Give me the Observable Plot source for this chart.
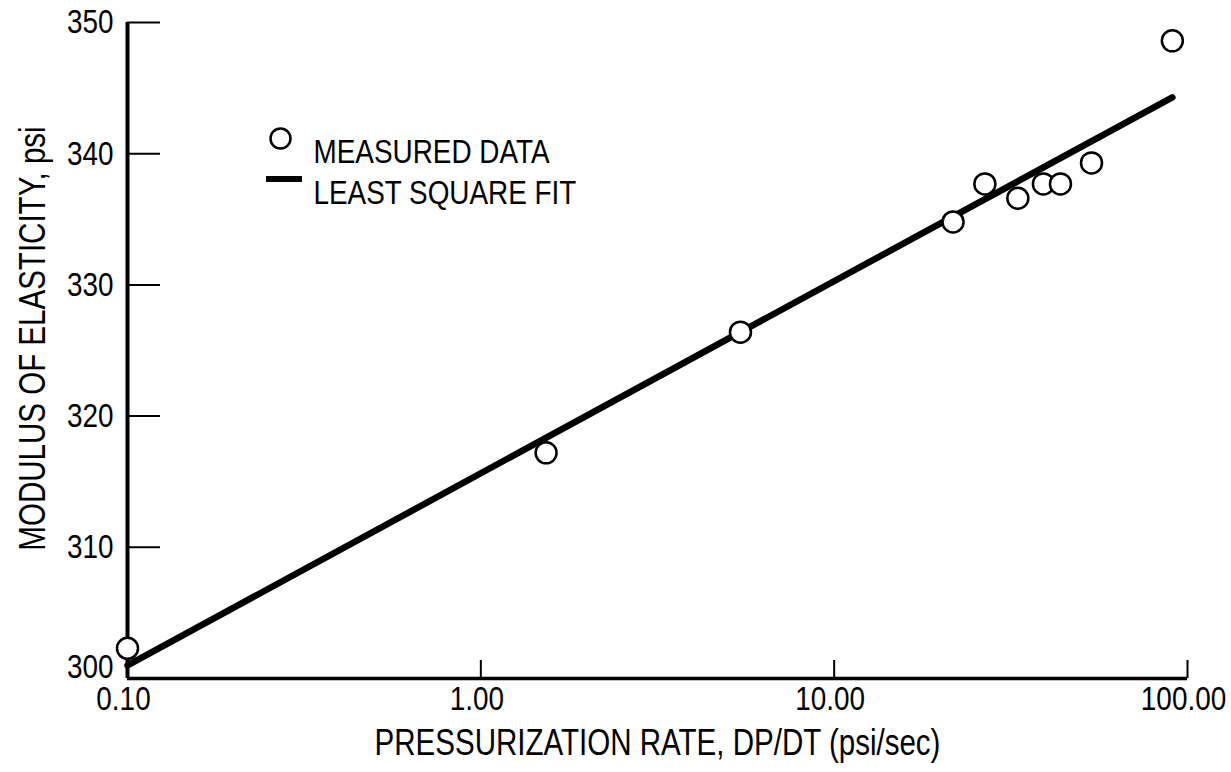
<!DOCTYPE html>
<html>
<head>
<meta charset="utf-8">
<script src="https://cdn.jsdelivr.net/npm/d3@7"></script>
<script src="https://cdn.jsdelivr.net/npm/@observablehq/plot@0.6"></script>
<style>
  html, body { margin: 0; padding: 0; background: #fff; }
  #chart { position: relative; width: 1231px; height: 772px; }
  svg { font-family: "Liberation Sans", Arial, sans-serif; }
</style>
</head>
<body>
<div id="chart"></div>
<script>
const rates   = [0.1, 1.53, 5.43, 21.7, 26.7, 33.1, 39.1, 43.7, 53.5, 90.6];
const moduli  = [302.3, 317.2, 326.4, 334.8, 337.7, 336.6, 337.7, 337.7, 339.3, 348.6];
// Least square fit line endpoints
const fitRates  = [0.1, 90.6];
const fitModuli = [301.0, 344.3];
// Axes
const xTicks = [0.1, 1, 10, 100];
const xTickLabels = ["0.10", "1.00", "10.00", "100.00"];
const yTicks = [310, 320, 330, 340, 350];
const yBottomTick = [300];
const xTitle = "PRESSURIZATION RATE, DP/DT (psi/sec)";
const yTitle = "MODULUS OF ELASTICITY, psi";
const legendLabels = ["MEASURED DATA", "LEAST SQUARE FIT"];

const points = rates.map((r, i) => ({rate: r, modulus: moduli[i]}));
const fit = fitRates.map((r, i) => ({rate: r, modulus: fitModuli[i]}));
const xLabel = d => xTickLabels[xTicks.indexOf(d)];

const FS = 34;   // tick labels and legend
const TFS = 36;  // axis titles
const plot = Plot.plot({
  width: 1231,
  height: 772,
  marginLeft: 127,
  marginRight: 44,
  marginTop: 22,
  marginBottom: 94,
  style: {fontSize: FS + "px", color: "#000", background: "#fff"},
  x: {type: "log", domain: [0.1, 100]},
  y: {domain: [300, 350]},
  marks: [
    // inward tick marks
    Plot.axisX(xTicks, {tickSize: -18, strokeWidth: 2, tickFormat: () => "", label: null}),
    Plot.axisY(yTicks, {tickSize: -33, strokeWidth: 2, tickFormat: () => "", label: null}),
    // tick labels
    Plot.axisX(xTicks, {tickSize: 0, tickPadding: 7, dx: -4, tickFormat: xLabel, fontSize: FS, label: null}),
    Plot.axisY(yTicks, {tickSize: 0, tickPadding: 14, fontSize: FS, label: null}),
    Plot.axisY(yBottomTick, {tickSize: 0, tickPadding: 14, dy: -11, fontSize: FS, label: null}),
    // axis lines
    Plot.ruleX([0.1], {strokeWidth: 4}),
    Plot.ruleY([300], {strokeWidth: 3.5}),
    // fit line
    Plot.line(fit, {x: "rate", y: "modulus", strokeWidth: 6.5, stroke: "#000"}),
    // measured points
    Plot.dot(points, {x: "rate", y: "modulus", r: 10.5, fill: "#fff", stroke: "#000", strokeWidth: 2.5}),
    // axis titles
    Plot.text([xTitle], {frameAnchor: "bottom", dy: 76, textAnchor: "middle", fontSize: TFS, fill: "#000"}),
    Plot.text([yTitle], {frameAnchor: "left", dx: -94, dy: -12, textAnchor: "middle", rotate: -90, fontSize: TFS, fill: "#000"}),
    // legend
    Plot.dot([legendLabels[0]], {frameAnchor: "top-left", dx: 153, dy: 116, r: 10, fill: "#fff", stroke: "#000", strokeWidth: 2.5}),
    Plot.text([legendLabels[0]], {frameAnchor: "top-left", dx: 186, dy: 116, textAnchor: "start", fontSize: FS, fill: "#000"}),
    Plot.text([legendLabels[1]], {frameAnchor: "top-left", dx: 186, dy: 157, textAnchor: "start", fontSize: FS, fill: "#000"})
  ]
});
document.getElementById("chart").appendChild(plot);

// Narrow the typeface horizontally (reference uses a condensed sans)
d3.select(plot).selectAll("text").each(function () {
  const len = this.getComputedTextLength();
  if (len > 0) {
    this.setAttribute("textLength", (len * 0.82).toFixed(1));
    this.setAttribute("lengthAdjust", "spacingAndGlyphs");
  }
});

// legend line sample (decoration)
d3.select(plot).append("line")
  .attr("x1", 127 + 139).attr("x2", 127 + 175)
  .attr("y1", 22 + 157).attr("y2", 22 + 157)
  .attr("stroke", "#000").attr("stroke-width", 6);
</script>
</body>
</html>
